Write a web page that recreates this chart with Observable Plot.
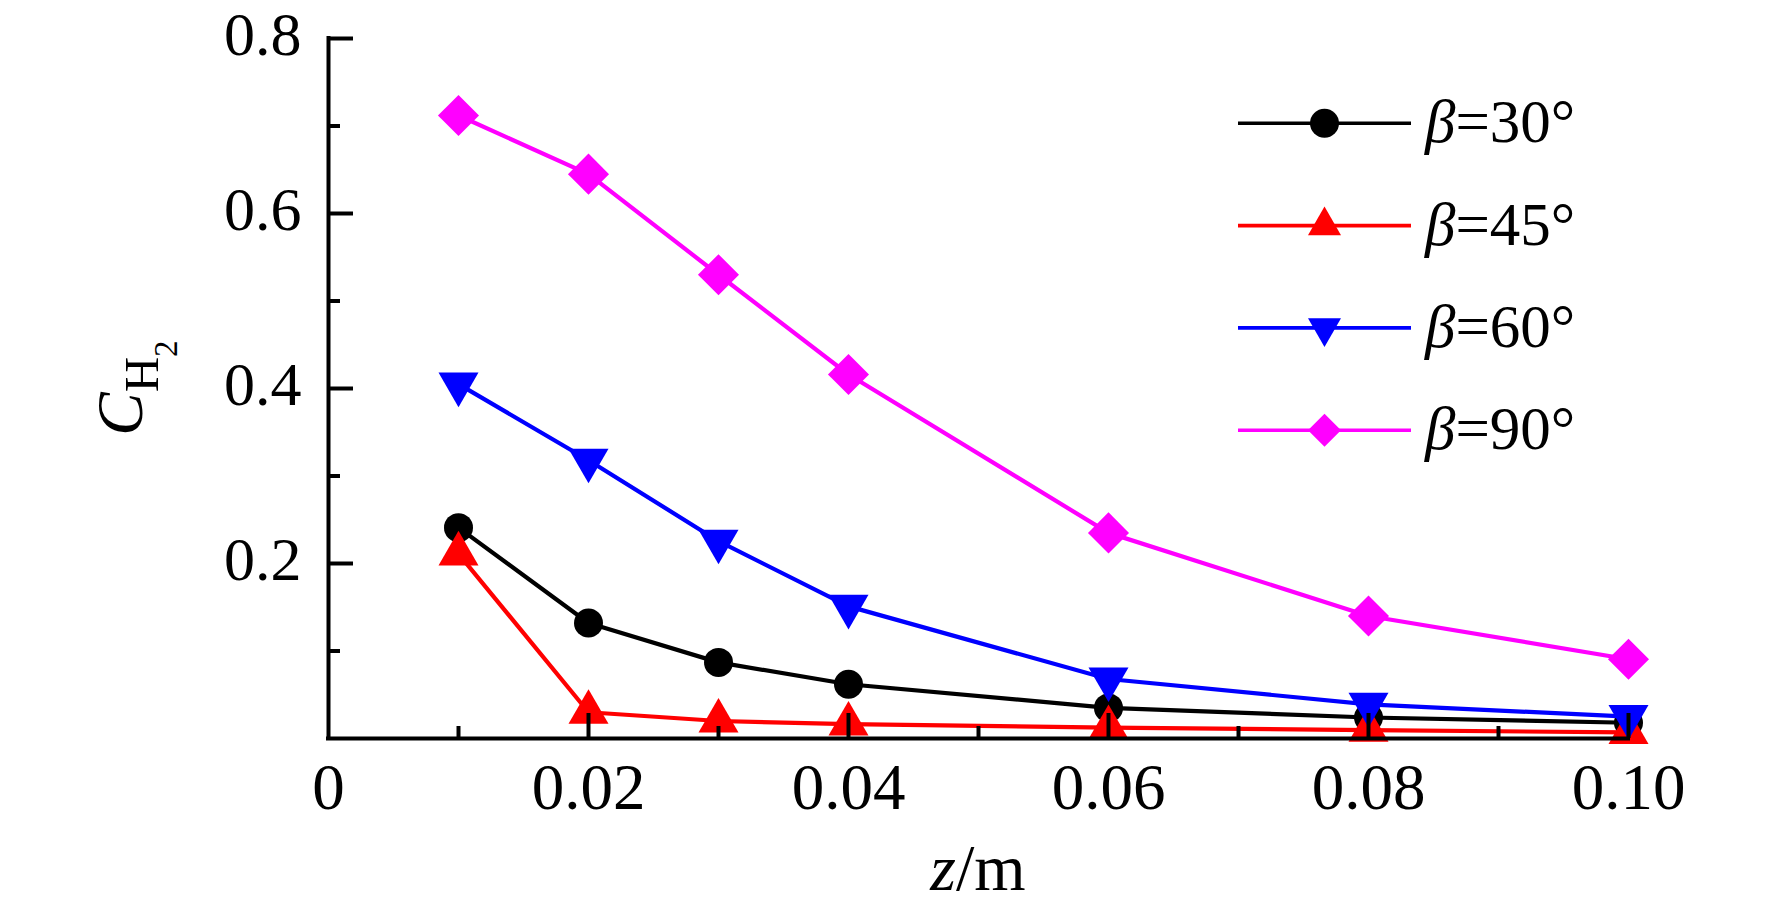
<!DOCTYPE html>
<html><head><meta charset="utf-8">
<script src="https://cdn.jsdelivr.net/npm/d3@7"></script>
<script src="https://cdn.jsdelivr.net/npm/@observablehq/plot@0.6"></script>
<style>html,body{margin:0;padding:0;background:#fff;} svg{display:block}</style>
</head><body>
<script>
// ---- data ----
const zValues = [0.01, 0.02, 0.03, 0.04, 0.06, 0.08, 0.10];
const beta30 = [0.241, 0.132, 0.087, 0.062, 0.035, 0.024, 0.018];
const beta45 = [0.211, 0.030, 0.020, 0.0165, 0.0125, 0.0095, 0.007];
const beta60 = [0.405, 0.318, 0.2255, 0.151, 0.068, 0.039, 0.025];
const beta90 = [0.712, 0.645, 0.530, 0.416, 0.235, 0.140, 0.0906];
const seriesAngles = ["30°", "45°", "60°", "90°"];
const xTickValues = [0, 0.02, 0.04, 0.06, 0.08, 0.10];
const xTickLabels = ["0", "0.02", "0.04", "0.06", "0.08", "0.10"];
const xMinorTicks = [0.01, 0.03, 0.05, 0.07, 0.09];
const xMajorTicks = [0.02, 0.04, 0.06, 0.08, 0.10];
const yTickValues = [0.2, 0.4, 0.6, 0.8];
const yTickLabels = ["0.2", "0.4", "0.6", "0.8"];
const yMinorTicks = [0.1, 0.3, 0.5, 0.7];

// ---- styles ----
const font = "'Liberation Serif', 'Times New Roman', serif";
const colors = ["#000000", "#ff0000", "#0000ff", "#ff00ff"];
const triangleDown = {
  draw(ctx, size) {
    const y = -Math.sqrt(size / (3 * Math.sqrt(3)));
    ctx.moveTo(0, -2 * y);
    ctx.lineTo(-Math.sqrt(3) * y, y);
    ctx.lineTo(Math.sqrt(3) * y, y);
    ctx.closePath();
  }
};
const symbols = ["circle", "triangle", triangleDown, "diamond2"];
const radii = [14.5, 14.85, 14.85, 18.5];
const values = [beta30, beta45, beta60, beta90];

const W = 1772, H = 909;
const mL = 328, mR = 144, mT = 38, mB = 171;
const frameW = W - mL - mR, frameH = H - mT - mB;

const seriesMarks = values.flatMap((vals, k) => {
  const rows = zValues.map((z, i) => ({z, c: vals[i]}));
  return [
    Plot.line(rows, {x: "z", y: "c", stroke: colors[k], strokeWidth: 4.2}),
    Plot.dot(rows, {x: "z", y: "c", symbol: symbols[k], r: radii[k], fill: colors[k], stroke: "none"})
  ];
});

const chart = Plot.plot({
  width: W, height: H,
  marginLeft: mL, marginRight: mR, marginTop: mT, marginBottom: mB,
  x: {domain: [0, 0.10], axis: null},
  y: {domain: [0, 0.8], axis: null},
  style: {fontFamily: font, background: "white", overflow: "visible"},
  marks: [
    ...seriesMarks,
    Plot.tickX(xMajorTicks, {x: d => d, insetTop: frameH - 25, stroke: "black", strokeWidth: 4}),
    Plot.tickX(xMinorTicks, {x: d => d, insetTop: frameH - 12, stroke: "black", strokeWidth: 4}),
    Plot.tickY(yTickValues, {y: d => d, insetRight: frameW - 25, stroke: "black", strokeWidth: 4}),
    Plot.tickY(yMinorTicks, {y: d => d, insetRight: frameW - 12, stroke: "black", strokeWidth: 4}),
    Plot.ruleY([0], {stroke: "black", strokeWidth: 4, strokeLinecap: "square"}),
    Plot.ruleX([0], {stroke: "black", strokeWidth: 4, strokeLinecap: "square"}),
    Plot.text(xTickValues, {x: d => d, frameAnchor: "bottom", lineAnchor: "top", dy: 24,
      text: (d, i) => xTickLabels[i], fontSize: 65, fill: "black", fontFamily: font}),
    Plot.text(yTickValues, {y: d => d, frameAnchor: "left", textAnchor: "end", lineAnchor: "middle",
      dx: -27, dy: -3, text: (d, i) => yTickLabels[i], fontSize: 62, fill: "black", fontFamily: font})
  ]
});
document.body.appendChild(chart);

const sx = chart.scale("x"), sy = chart.scale("y");
const svg = d3.select(chart);

// x title
const xt = svg.append("text")
  .attr("x", (sx.apply(0) + sx.apply(0.10)) / 2)
  .attr("y", sy.apply(0) + 151.5)
  .attr("text-anchor", "middle")
  .attr("font-family", font).attr("font-size", 66).attr("fill", "black");
xt.append("tspan").attr("font-style", "italic").text("z");
xt.append("tspan").text("/m");

// y title  C_{H_2}
const yt = svg.append("text")
  .attr("transform", `translate(142,${(sy.apply(0) + sy.apply(0.8)) / 2}) rotate(-90)`)
  .attr("text-anchor", "middle")
  .attr("font-family", font).attr("fill", "black");
yt.append("tspan").attr("font-style", "italic").attr("font-size", 65).text("C");
yt.append("tspan").attr("font-size", 49).attr("dy", 16).text("H");
yt.append("tspan").attr("font-size", 33).attr("dy", 19).text("2");

// legend
const legendSymbols = [d3.symbolCircle, d3.symbolTriangle, triangleDown, d3.symbolDiamond2];
const legendSizes = [Math.PI * 14.5 * 14.5, 472, 472, 694];
const lg = svg.append("g");
seriesAngles.forEach((a, k) => {
  const yy = 123.3 + k * 102.3;
  lg.append("line").attr("x1", 1238).attr("x2", 1411).attr("y1", yy).attr("y2", yy)
    .attr("stroke", colors[k]).attr("stroke-width", 3.6);
  lg.append("path").attr("transform", `translate(1324.5,${yy})`)
    .attr("d", d3.symbol(legendSymbols[k], legendSizes[k])()).attr("fill", colors[k]);
  const t = lg.append("text").attr("x", 1425).attr("y", yy + 19)
    .attr("text-anchor", "start")
    .attr("font-family", font).attr("font-size", 61).attr("fill", "black");
  t.append("tspan").attr("font-style", "italic").text("β");
  t.append("tspan").text("=" + a);
});
</script>
</body></html>
